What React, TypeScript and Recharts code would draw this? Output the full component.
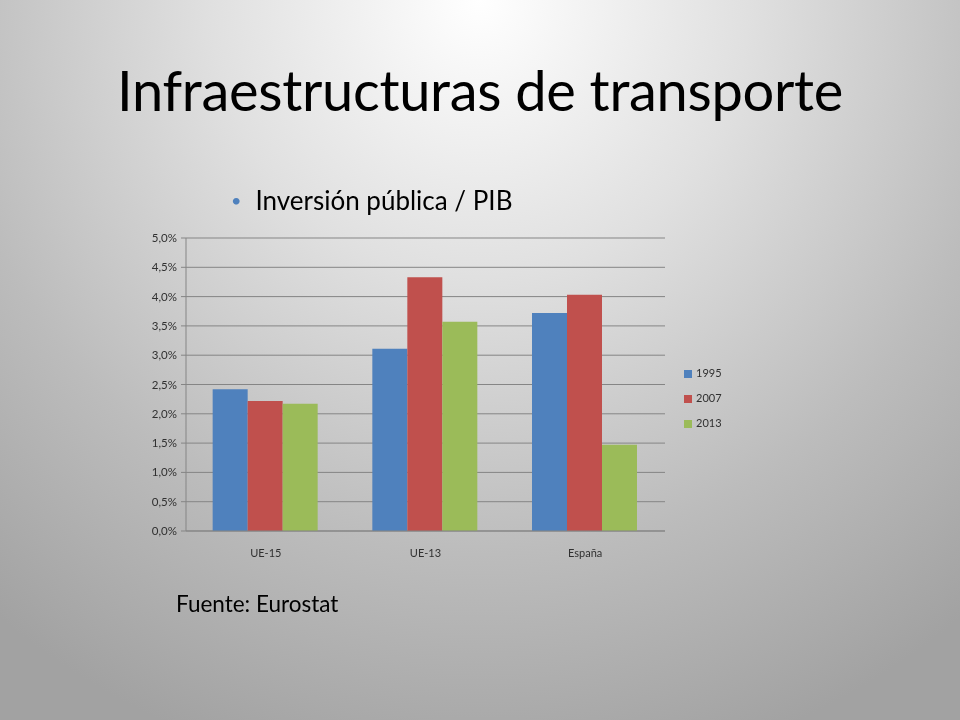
import React from 'react';
import { BarChart, Bar, XAxis, YAxis, CartesianGrid, Legend } from 'recharts';

const categories = ['UE-15', 'UE-13', 'España'];
const series1995 = [2.42, 3.11, 3.72];
const series2007 = [2.22, 4.33, 4.03];
const series2013 = [2.17, 3.57, 1.47];
const yTicks = [0, 0.5, 1, 1.5, 2, 2.5, 3, 3.5, 4, 4.5, 5];
const seriesNames = ['1995', '2007', '2013'];
const colors = ['#4F81BD', '#C0504D', '#9BBB59'];

const data = categories.map((c, i) => ({
  name: c,
  '1995': series1995[i],
  '2007': series2007[i],
  '2013': series2013[i],
}));

const fmt = (v: number) => v.toFixed(1).replace('.', ',') + '%';

const font = 'Lato, "Open Sans", sans-serif';

export default function App() {
  return (
    <div
      style={{
        position: 'fixed',
        left: 0,
        top: 0,
        width: 960,
        height: 720,
        overflow: 'hidden',
        background:
          'radial-gradient(ellipse 80% 110% at 50% 0%, #ffffff 0%, #e0e0e0 35%, #bcbcbc 70%, #a2a2a2 100%)',
        fontFamily: font,
      }}
    >
      <div
        style={{
          position: 'absolute',
          left: 0,
          width: 960,
          top: 55,
          textAlign: 'center',
          fontSize: 56,
          color: '#000',
          lineHeight: '70px',
          letterSpacing: -0.3,
        }}
      >
        Infraestructuras de transporte
      </div>
      <div style={{ position: 'absolute', left: 231, top: 185, fontSize: 26, color: '#000', lineHeight: '30px' }}>
        <span style={{ color: '#4F81BD', fontSize: 18, marginRight: 14, position: 'relative', top: -3 }}>•</span>
        Inversión pública / PIB
      </div>
      <div style={{ position: 'absolute', left: 176, top: 590, fontSize: 22.5, color: '#000', lineHeight: '28px' }}>
        Fuente: Eurostat
      </div>
      <div style={{ position: 'absolute', left: 0, top: 0 }}>
        <BarChart
          width={960}
          height={720}
          data={data}
          margin={{ top: 238, bottom: 165, left: 136, right: 235 }}
          barCategoryGap="16.7%"
          barGap={0}
        >
          <CartesianGrid vertical={false} stroke="#858585" strokeWidth={1} />
          <XAxis
            dataKey="name"
            axisLine={{ stroke: '#858585' }}
            tickLine={false}
            tick={{ fontSize: 11, fill: '#303030', fontFamily: font }}
            height={24}
            tickMargin={12}
          />
          <YAxis
            domain={[0, 5]}
            ticks={yTicks}
            tickFormatter={fmt}
            width={50}
            axisLine={{ stroke: '#858585' }}
            tickLine={{ stroke: '#858585' }}
            tickSize={5}
            tickMargin={4}
            tick={{ fontSize: 11.5, fill: '#303030', fontFamily: font }}
            interval={0}
          />
          <Legend
            layout="vertical"
            align="right"
            verticalAlign="top"
            iconType="square"
            iconSize={8}
            wrapperStyle={{ left: 684, top: 360, width: 60, fontSize: 11, lineHeight: '25px', fontFamily: font }}
            formatter={(v: string) => <span style={{ color: '#303030' }}>{v}</span>}
          />
          {seriesNames.map((s, i) => (
            <Bar key={s} dataKey={s} fill={colors[i]} isAnimationActive={false} />
          ))}
        </BarChart>
      </div>
    </div>
  );
}
